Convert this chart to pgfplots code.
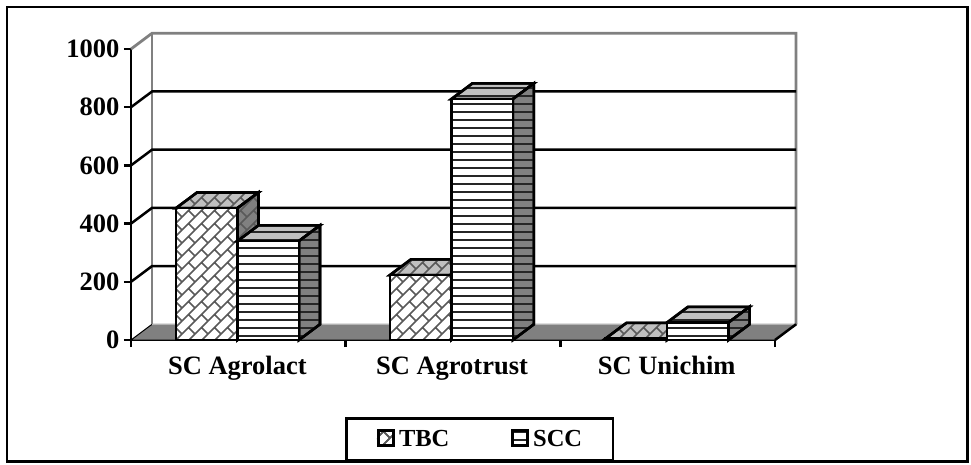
\documentclass[border=0pt]{standalone}
\usepackage{fontspec}
\setmainfont{Liberation Serif}
\usepackage{pgfplots}
\pgfplotsset{compat=1.18}
\usetikzlibrary{patterns}
\pgfdeclarepatternformonly{brick}{\pgfqpoint{-1pt}{-1pt}}{\pgfqpoint{27pt}{27pt}}{\pgfqpoint{26pt}{26pt}}{
  \pgfsetlinewidth{1.5pt}
  \pgfpathmoveto{\pgfqpoint{0pt}{0pt}}\pgfpathlineto{\pgfqpoint{26pt}{26pt}}
  \pgfpathmoveto{\pgfqpoint{13pt}{0pt}}\pgfpathlineto{\pgfqpoint{26pt}{13pt}}
  \pgfpathmoveto{\pgfqpoint{0pt}{13pt}}\pgfpathlineto{\pgfqpoint{13pt}{26pt}}
  \pgfpathmoveto{\pgfqpoint{6.5pt}{6.5pt}}\pgfpathlineto{\pgfqpoint{13pt}{0pt}}
  \pgfpathmoveto{\pgfqpoint{19.5pt}{19.5pt}}\pgfpathlineto{\pgfqpoint{26pt}{13pt}}
  \pgfpathmoveto{\pgfqpoint{19.5pt}{6.5pt}}\pgfpathlineto{\pgfqpoint{26pt}{0pt}}
  \pgfpathmoveto{\pgfqpoint{6.5pt}{19.5pt}}\pgfpathlineto{\pgfqpoint{13pt}{13pt}}
  \pgfusepath{stroke}}
\pgfdeclarepatternformonly{hstripe}{\pgfqpoint{0pt}{-1pt}}{\pgfqpoint{8pt}{7pt}}{\pgfqpoint{8pt}{8pt}}{
  \pgfsetlinewidth{2pt}
  \pgfpathmoveto{\pgfqpoint{0pt}{0pt}}\pgfpathlineto{\pgfqpoint{8pt}{0pt}}
  \pgfusepath{stroke}}
\definecolor{wallgray}{RGB}{128,128,128}
\definecolor{lightface}{RGB}{192,192,192}
\tikzset{
  face/.style={draw=black,line width=2.6pt,line join=miter},
  tbctop/.style={face,fill=lightface,postaction={pattern=brick,pattern color=black!65}},
  tbcside/.style={face,fill=wallgray,postaction={pattern=brick,pattern color=black!65}},
  scctop/.style={face,fill=lightface,postaction={pattern=hstripe,pattern color=black!85}},
  sccside/.style={face,fill=wallgray,postaction={pattern=hstripe,pattern color=black!85}}
}
\begin{document}
\begin{tikzpicture}[x=1pt,y=1pt]
\path[use as bounding box] (0,0) rectangle (971,464);
\draw[line width=2.2pt] (7,2.5) rectangle (967.5,457);
\begin{axis}[
  at={(131pt,124pt)},anchor=origin,
  scale only axis,width=644pt,height=291pt,
  xmin=0,xmax=3,ymin=0,ymax=1000,clip=false,
  axis x line*=bottom,axis y line*=left,
  axis line style={line width=2.8pt,-},
  xtick={0,1,2,3},ytick={0,200,400,600,800,1000},
  x tick label as interval,
  xticklabels={SC Agrolact,SC Agrotrust,SC Unichim},
  tick align=outside,
  major tick length=7pt,
  tick style={black,line width=2.4pt},
  /pgf/number format/assume math mode=true,
  tick label style={font=\fontsize{26.5}{28}\selectfont\bfseries},
  x tick label style={yshift=-6pt,xshift=-1pt,text height=18pt,text depth=6pt},
  y tick label style={xshift=-1pt},
  /pgf/number format/1000 sep={},
  legend columns=2,
  legend style={at={(0.3323,-0.2646)},anchor=north west,draw=black,line width=2.6pt,
    font=\fontsize{24.5}{26}\selectfont\bfseries,inner xsep=29pt,inner ysep=10pt,
    /tikz/every even column/.append style={column sep=60pt},
    /tikz/every odd column/.append style={column sep=2pt}},
]
% back wall and floor
\addplot[forget plot,fill=wallgray,draw=black,line width=1pt] coordinates {(0,0) (0.098,54) (3.098,54) (3,0)} --cycle;
\addplot[forget plot,draw=wallgray!60!white,line width=1.5pt] coordinates {(0.098,54) (3.098,54)};
\addplot[forget plot,draw=wallgray,line width=2.8pt] coordinates {(0,1000) (0.098,1054) (3.098,1054) (3.098,54)};
\addplot[forget plot,draw=wallgray,line width=2.8pt] coordinates {(0.098,54) (0.098,1054)};
\addplot[forget plot,draw=black,line width=2.5pt] coordinates {(0,200) (0.098,254) (3.098,254)};
\addplot[forget plot,draw=black,line width=2.5pt] coordinates {(0,400) (0.098,454) (3.098,454)};
\addplot[forget plot,draw=black,line width=2.5pt] coordinates {(0,600) (0.098,654) (3.098,654)};
\addplot[forget plot,draw=black,line width=2.5pt] coordinates {(0,800) (0.098,854) (3.098,854)};
\addplot[forget plot,draw=black,line width=2.5pt] coordinates {(3,0) (3.098,54)};
% TBC
\addplot[forget plot,tbctop] coordinates {(.2095,453) (.496,453) (.594,507) (.3075,507)} --cycle;
\addplot[forget plot,tbcside] coordinates {(.496,0) (.594,54) (.594,507) (.496,453)} --cycle;
\addplot[forget plot,tbctop] coordinates {(1.206,223) (1.4925,223) (1.5905,277) (1.304,277)} --cycle;
\addplot[forget plot,tbcside] coordinates {(1.4925,0) (1.5905,54) (1.5905,277) (1.4925,223)} --cycle;
\addplot[forget plot,tbctop] coordinates {(2.2105,5) (2.497,5) (2.595,59) (2.3085,59)} --cycle;
\addplot[forget plot,tbcside] coordinates {(2.497,0) (2.595,54) (2.595,59) (2.497,5)} --cycle;
\addplot[ybar,bar width=0.2865,bar shift=-0.14325,face,fill=white,
  postaction={pattern=brick,pattern color=black!65},
  legend image code/.code={\path (-2pt,0pt) -- (0pt,0pt);\draw[black,line width=2.8pt,fill=white,postaction={pattern=brick,pattern color=black!65}] (0pt,-6pt) rectangle (15pt,9pt);}]
  coordinates {(.496,453) (1.4925,223) (2.497,5)};
\addlegendentry{TBC}
% SCC
\addplot[forget plot,scctop] coordinates {(.496,340) (.7825,340) (.8805,394) (.594,394)} --cycle;
\addplot[forget plot,sccside] coordinates {(.7825,0) (.8805,54) (.8805,394) (.7825,340)} --cycle;
\addplot[forget plot,scctop] coordinates {(1.4925,828) (1.779,828) (1.877,882) (1.5905,882)} --cycle;
\addplot[forget plot,sccside] coordinates {(1.779,0) (1.877,54) (1.877,882) (1.779,828)} --cycle;
\addplot[forget plot,scctop] coordinates {(2.497,60) (2.7835,60) (2.8815,114) (2.595,114)} --cycle;
\addplot[forget plot,sccside] coordinates {(2.7835,0) (2.8815,54) (2.8815,114) (2.7835,60)} --cycle;
\addplot[ybar,bar width=0.2865,bar shift=0.14325,face,fill=white,
  postaction={pattern=hstripe,pattern color=black!85},
  legend image code/.code={\draw[black,line width=2.8pt,fill=white,postaction={pattern=hstripe,pattern color=black!85}] (0pt,-6pt) rectangle (15pt,9pt);}]
  coordinates {(.496,340) (1.4925,828) (2.497,60)};
\addlegendentry{SCC}
\end{axis}
\end{tikzpicture}
\end{document}
